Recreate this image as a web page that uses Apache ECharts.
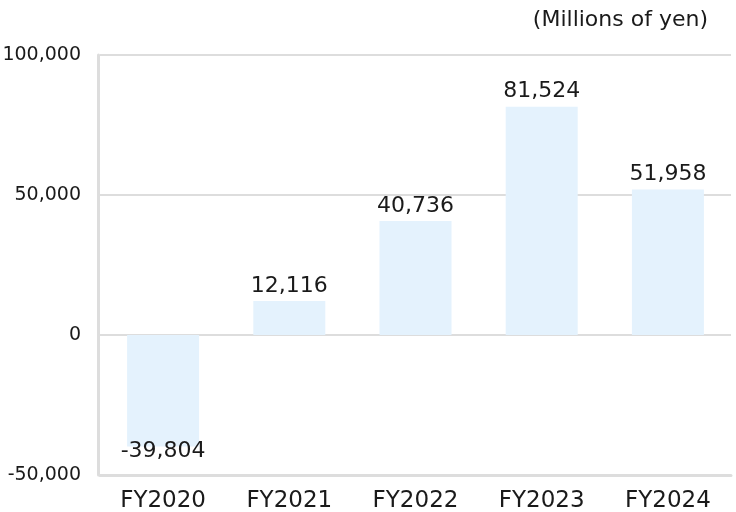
<!DOCTYPE html>
<html><head><meta charset="utf-8">
<script src="https://cdn.jsdelivr.net/npm/echarts@6/dist/echarts.min.js"></script>
<style>html,body{margin:0;padding:0;background:#fff}#c{width:736px;height:512px}</style>
</head><body><div id="c"></div>
<script>
const categories = ["FY2020","FY2021","FY2022","FY2023","FY2024"];
const values = [-39804, 12116, 40736, 81524, 51958];
const yTicks = [-50000, 0, 50000, 100000];
const unitLabel = "(Millions of yen)";

const FONT = '"DejaVu Sans", sans-serif';
const fmt = v => (v < 0 ? '-' : '') + Math.abs(v).toLocaleString('en-US');

const chart = echarts.init(document.getElementById('c'), null, {renderer:'canvas'});
chart.setOption({
  animation: false,
  backgroundColor: '#fff',
  title: {
    text: unitLabel, right: 23, top: 4,
    textStyle: {fontFamily: FONT, fontSize: 22, fontWeight: 'normal', color: '#1a1a1a'}
  },
  grid: {left: 100, right: 5, top: 55, bottom: 37, containLabel: false, outerBoundsMode: 'none'},
  xAxis: {
    type: 'category', data: categories,
    axisLine: {onZero: false, lineStyle: {color: '#dddddd', width: 3}},
    axisTick: {show: false},
    axisLabel: {fontFamily: FONT, fontSize: 23, color: '#1a1a1a', margin: 15}
  },
  yAxis: {
    type: 'value', min: yTicks[0], max: yTicks[yTicks.length-1], interval: 50000,
    offset: 2,
    axisLine: {show: true, lineStyle: {color: '#dddddd', width: 3}},
    axisTick: {show: false},
    splitLine: {lineStyle: {color: '#dddddd', width: 2}},
    axisLabel: {fontFamily: FONT, fontSize: 19, color: '#1a1a1a', margin: 17, formatter: fmt}
  },
  series: [{
    type: 'bar', barWidth: 72,
    itemStyle: {color: '#e4f2fd'},
    data: values.map(v => v < 0 ? {value: v, label: {position: 'bottom', distance: 0, offset: [0, -6]}} : v),
    label: {show: true, position: 'top', distance: 4, fontFamily: FONT, fontSize: 22, color: '#1a1a1a', formatter: p => fmt(p.value)}
  }]
});
</script></body></html>
